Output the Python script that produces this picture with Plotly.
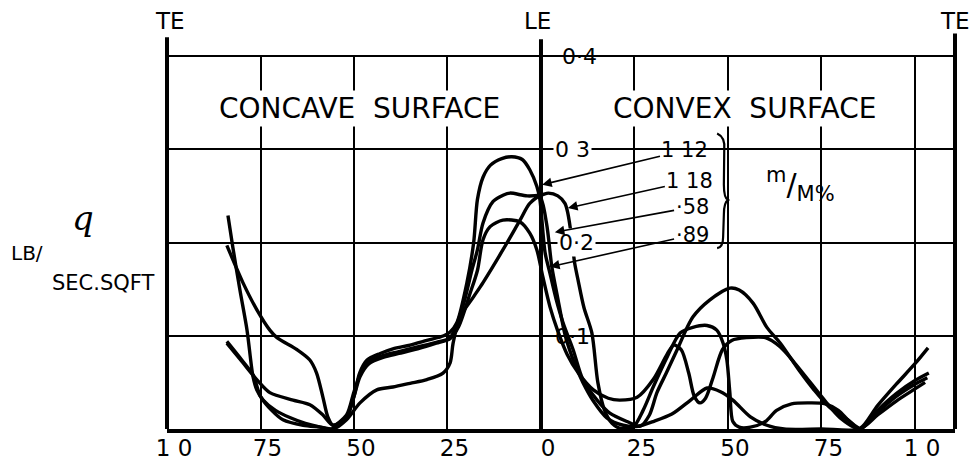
import plotly.graph_objects as go

# ---------------- data ----------------
# x: chord position in %, concave surface negative (TE=-100 .. LE=0), convex positive (LE=0 .. TE)
# y: q  (LB / SEC.SQFT)
series_names = ["1 12", "1 18", "·58", "·89"]

x_112 = [-83.7, -82.4, -80.5, -78.6, -77, -76, -74.3, -71, -67, -63, -59, -56, -52, -50, -48.5, -46.5,
         -43, -39.6, -35, -30.5, -26, -24.3, -22.5, -19.8, -18, -17, -15.5, -13.5, -10.5, -7.8, -5, -3,
         -1.1, -0.3, 1.1, 2.4, 4, 5.9, 8.6, 11.2, 15, 18.4, 23, 26.5, 29, 31, 33.5, 36.4, 40.6, 45,
         50.5, 53, 56.7, 60.4, 64, 69, 73, 77, 82, 85.3, 90, 95, 100, 103.5]
y_112 = [0.229, 0.195, 0.149, 0.106, 0.056, 0.042, 0.031, 0.020, 0.012, 0.006, 0.002, 0.000, 0.012, 0.035, 0.060, 0.074,
         0.081, 0.086, 0.090, 0.095, 0.100, 0.104, 0.114, 0.157, 0.200, 0.246, 0.270, 0.283, 0.290, 0.292, 0.289, 0.278,
         0.260, 0.246, 0.189, 0.167, 0.140, 0.114, 0.085, 0.053, 0.031, 0.017, 0.008, 0.003, 0.015, 0.039, 0.060, 0.085, 0.120, 0.138,
         0.151, 0.149, 0.135, 0.109, 0.092, 0.063, 0.042, 0.024, 0.010, 0.001, 0.025, 0.048, 0.070, 0.087]

x_118 = [-84, -79.7, -76, -72.5, -70.6, -65.2, -61.8, -60, -58.3, -57, -55.6, -52, -50, -48, -46, -42, -38,
         -33, -28, -24.3, -21, -18.5, -17, -15.5, -12.8, -10, -8.3, -3.7, 0, 2, 4.5, 6.4, 7.2, 8.2, 9, 9.9,
         11.5, 13.6, 15.2, 17, 19, 21, 24.6, 27.3, 30, 33.7, 37.2, 40.6, 44.4, 47, 48.7, 49.7, 50.5, 51.3,
         53, 56, 60, 63, 67, 72, 76, 79.5, 82.5, 85.3, 90, 95, 100, 103.7]
y_118 = [0.197, 0.157, 0.128, 0.106, 0.098, 0.085, 0.074, 0.060, 0.034, 0.013, 0.004, 0.015, 0.040, 0.062, 0.073, 0.079, 0.083,
         0.088, 0.093, 0.098, 0.130, 0.170, 0.192, 0.221, 0.244, 0.251, 0.253, 0.250, 0.251, 0.253, 0.250, 0.242, 0.231, 0.205, 0.178, 0.160,
         0.130, 0.103, 0.050, 0.020, 0.006, 0.001, 0.002, 0.020, 0.045, 0.077, 0.103, 0.109, 0.111, 0.106, 0.092, 0.074, 0.039, 0.008,
         0.002, 0.002, 0.008, 0.020, 0.027, 0.028, 0.027, 0.020, 0.008, 0.000, 0.020, 0.038, 0.052, 0.060]

x_058 = [-84, -79.7, -76, -72.5, -66.3, -61.8, -58.3, -55.6, -52, -50, -48.4, -46, -42, -38, -33, -28,
         -24.3, -22, -19, -17, -15.5, -13.6, -10.2, -5.6, -3, -1.1, 0.5, 2.4, 4.5, 7, 10, 14, 18, 21, 25.7,
         30, 33.7, 35.5, 37.5, 39.5, 41, 42.5, 44, 46, 48.5, 51, 55, 60, 64, 68, 72, 76, 80, 85.3,
         90, 95, 100, 103.3]
y_058 = [0.092, 0.071, 0.053, 0.039, 0.031, 0.026, 0.015, 0.004, 0.013, 0.035, 0.056, 0.070, 0.077, 0.081, 0.086, 0.092,
         0.097, 0.110, 0.145, 0.170, 0.203, 0.217, 0.224, 0.222, 0.210, 0.192, 0.163, 0.131, 0.105, 0.080, 0.060, 0.042, 0.033, 0.031, 0.034,
         0.053, 0.080, 0.090, 0.085, 0.060, 0.035, 0.028, 0.033, 0.055, 0.085, 0.095, 0.098, 0.098, 0.088, 0.070, 0.050, 0.030, 0.012, 0.000,
         0.018, 0.035, 0.048, 0.055]

x_089 = [-84, -80, -77, -75, -72, -69, -63.6, -59, -55.6, -52, -48.4, -43.9, -39.6, -35, -30.5, -26.2,
         -24.3, -23.5, -21.7, -18, -15.5, -10.2, -5.6, -3, -0.3, 1.5, 2.9, 4.5, 6.5, 9, 11.2, 14, 17.6, 22,
         26, 30, 35, 40, 44.4, 48, 51.3, 56, 60.4, 65, 75, 85.3, 90, 95, 100, 102.7]
y_089 = [0.094, 0.074, 0.058, 0.035, 0.020, 0.010, 0.004, 0.002, 0.000, 0.010, 0.028, 0.042, 0.045, 0.049, 0.053, 0.060,
         0.071, 0.092, 0.120, 0.142, 0.157, 0.192, 0.224, 0.242, 0.249, 0.220, 0.174, 0.140, 0.100, 0.070, 0.050, 0.030, 0.012, 0.004,
         0.003, 0.008, 0.016, 0.031, 0.044, 0.040, 0.031, 0.013, 0.004, 0.000, 0.000, 0.000, 0.015, 0.030, 0.043, 0.050]

# leader arrows: where each label's arrow touches its curve
arrow_x = [0.3, 7.2, 3.7, 2.4]
arrow_y = [0.262, 0.237, 0.211, 0.174]
label_x = [38.5, 39.8, 40.4, 40.4]
label_y = [0.299, 0.266, 0.238, 0.208]

x_tickvals = [-100, -75, -50, -25, 0, 25, 50, 75, 100]
x_ticktext = ["1 0", "75", "50", "25", "0", "25", "50", "75", "1 0"]
y_gridvals = [0.1, 0.2, 0.3, 0.4]
y_labels = ["0·1", "0·2", "0 3", "0·4"]

X_MIN, X_MAX = -100, 110.7
Y_MIN, Y_MAX = 0, 0.4

FONT = "DejaVu Sans"
INK = "black"

fig = go.Figure()
all_x = [x_112, x_118, x_058, x_089]
all_y = [y_112, y_118, y_058, y_089]
for name, xs, ys in zip(series_names, all_x, all_y):
    fig.add_trace(go.Scatter(x=xs, y=ys, mode="lines", name=name,
                             line=dict(color=INK, width=3.4, shape="spline", smoothing=0.8),
                             showlegend=False, hoverinfo="skip"))

def px(v):
    return (v - X_MIN) / (X_MAX - X_MIN)

def py(v):
    return (v - Y_MIN) / (Y_MAX - Y_MIN)

shapes = []
# frame: left TE, LE and right TE verticals (extend above the top line)
for xv, top in [(X_MIN, 1.05), (0, 1.045), (X_MAX, 1.06)]:
    shapes.append(dict(type="line", xref="paper", yref="paper", x0=px(xv), x1=px(xv),
                       y0=0, y1=top, line=dict(color=INK, width=4)))
# top line (q = 0.4)
shapes.append(dict(type="line", xref="paper", yref="paper", x0=0, x1=1, y0=1, y1=1,
                   line=dict(color=INK, width=2)))
# brace joining the four labels
shapes.append(dict(type="path", xref="x", yref="y",
                   path="M 47.1,0.317 Q 49.3,0.313 49.0,0.300 L 48.9,0.262 Q 48.9,0.248 50.0,0.2456 "
                        "Q 48.9,0.243 48.9,0.230 L 48.7,0.206 Q 48.7,0.195 47.1,0.194",
                   line=dict(color=INK, width=2.2)))

annotations = []

def note(x, y, text, size, ref="data", family=FONT, **kw):
    if ref == "paper":
        x, y, xr, yr = px(x), py(y), "paper", "paper"
    else:
        xr, yr = "x", "y"
    d = dict(x=x, y=y, xref=xr, yref=yr, text=text, showarrow=False,
             xanchor="center", yanchor="middle",
             font=dict(family=family, size=size, color=INK))
    d.update(kw)
    annotations.append(d)

# surface titles (white box makes the gaps in the grid lines)
note(-48.4, 0.344, "CONCAVE  SURFACE", 28, bgcolor="white", borderpad=1)
note(54.5, 0.344, "CONVEX  SURFACE", 28, bgcolor="white", borderpad=1)
# TE / LE labels (above the plot area)
for xv, t in [(-99.2, "TE"), (-0.8, "LE"), (110.7, "TE")]:
    note(xv, 0.437, t, 23, ref="paper")
# q scale labels on the LE line
label_pos = {"0·1": (8.3, 0.099, None), "0·2": (9.6, 0.2, "white"),
             "0 3": (8.3, 0.3, "white"), "0·4": (10.4, 0.4, None)}
for t in y_labels:
    xv, yv, bg = label_pos[t]
    if bg:
        note(xv, yv, t, 22, ref="paper", bgcolor=bg, borderpad=1)
    else:
        note(xv, yv, t, 22, ref="paper")
# series labels with leader arrows
for name, axv, ayv, lx, ly in zip(series_names, arrow_x, arrow_y, label_x, label_y):
    annotations.append(dict(x=axv, y=ayv, xref="x", yref="y", ax=lx, ay=ly, axref="x", ayref="y",
                            text=name, showarrow=True, arrowhead=2, arrowsize=1.2, arrowwidth=1.6,
                            arrowcolor=INK, standoff=0,
                            font=dict(family=FONT, size=21, color=INK)))
note(69.3, 0.262, "<sup>m</sup>/<sub>M%</sub>", 30)
# y-axis title (left margin)
note(-122.5, 0.226, "<i>q</i>", 34, ref="paper", family="DejaVu Serif")
note(-137.5, 0.189, "LB/", 20, ref="paper")
note(-117, 0.157, "SEC.SQFT", 21, ref="paper")

fig.update_layout(
    width=977, height=465,
    margin=dict(l=167, r=22, t=56, b=36, autoexpand=False),
    paper_bgcolor="white", plot_bgcolor="white",
    shapes=shapes, annotations=annotations,
    xaxis=dict(range=[X_MIN, X_MAX], tickvals=x_tickvals, ticktext=x_ticktext,
               showgrid=True, gridcolor=INK, gridwidth=1.6, zeroline=False,
               showline=True, linecolor=INK, linewidth=4, ticks="", automargin=False,
               ticklabelshift=7, ticklabelstandoff=-5,
               tickfont=dict(family=FONT, size=23, color=INK)),
    yaxis=dict(range=[Y_MIN, Y_MAX], tickvals=y_gridvals, showticklabels=False,
               showgrid=True, gridcolor=INK, gridwidth=1.6, zeroline=False,
               showline=False, ticks="", automargin=False),
)

fig.write_html("out.html")
